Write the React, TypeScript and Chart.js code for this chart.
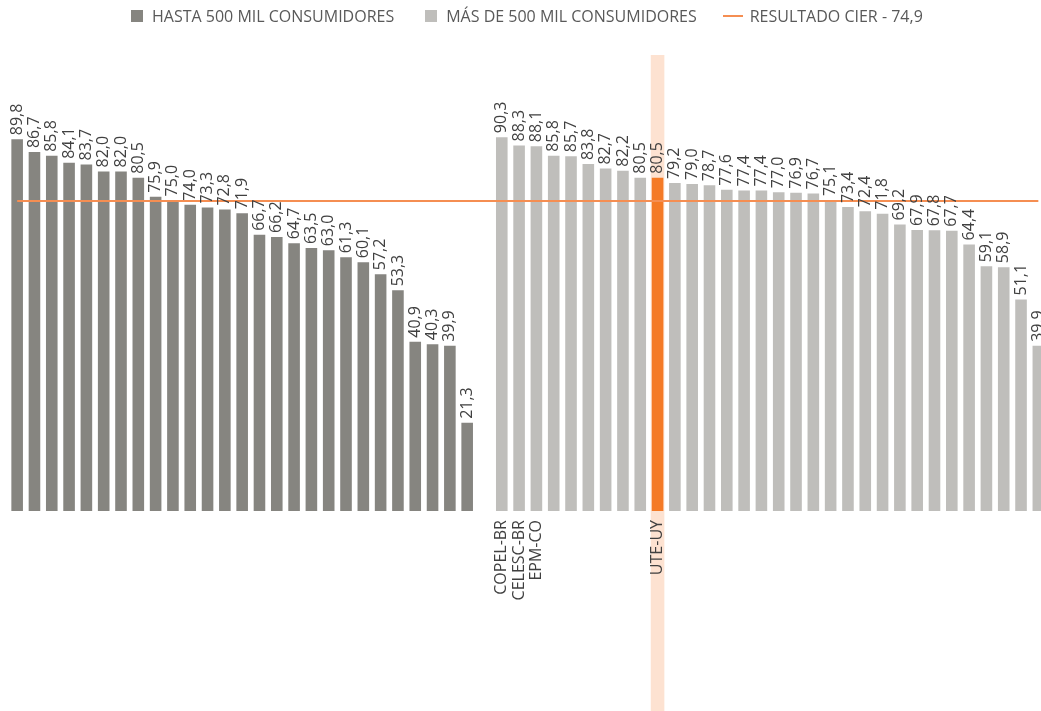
import React, { useEffect, useRef } from "react";
import { Chart, registerables } from "chart.js";

Chart.register(...registerables);

// ---- data ----
const hastaLabel = "HASTA 500 MIL CONSUMIDORES";
const masLabel = "MÁS DE 500 MIL CONSUMIDORES";
const cierLabel = "RESULTADO CIER - 74,9";

const hastaValues = [
  89.8, 86.7, 85.8, 84.1, 83.7, 82.0, 82.0, 80.5, 75.9, 75.0, 74.0, 73.3, 72.8, 71.9,
  66.7, 66.2, 64.7, 63.5, 63.0, 61.3, 60.1, 57.2, 53.3, 40.9, 40.3, 39.9, 21.3,
];
const masValues = [
  90.3, 88.3, 88.1, 85.8, 85.7, 83.8, 82.7, 82.2, 80.5, 80.5, 79.2, 79.0, 78.7, 77.6,
  77.4, 77.4, 77.0, 76.9, 76.7, 75.1, 73.4, 72.4, 71.8, 69.2, 67.9, 67.8, 67.7, 64.4,
  59.1, 58.9, 51.1, 39.9,
];
const masNames = [
  "COPEL-BR", "CELESC-BR", "EPM-CO", "", "", "", "", "", "", "UTE-UY",
  "", "", "", "", "", "", "", "", "", "", "", "", "", "", "", "", "", "", "", "", "", "",
];
const highlightName = "UTE-UY";
const resultadoCier = 74.9;

// ---- styles ----
const DARK = "#868580";
const LIGHT = "#bfbebb";
const ORANGE = "#f47a26";
const LINE = "#f58e52";
const BAND = "#fde2d1";
const TEXT = "#404040";
const FONT = "'Open Sans', 'DejaVu Sans', sans-serif";

const hastaNames = hastaValues.map(() => "");
const categories = [...hastaNames, "", ...masNames];
const offset = hastaValues.length + 1;
const highlightIndex = offset + masNames.indexOf(highlightName);

const fmt = (v: number) => v.toFixed(1).replace(".", ",");

const bandPlugin = {
  id: "band",
  beforeDraw(chart: any) {
    const el = chart.getDatasetMeta(1).data[highlightIndex];
    if (!el) return;
    const ctx = chart.ctx;
    const w = el.width;
    ctx.save();
    ctx.fillStyle = BAND;
    ctx.fillRect(el.x - w / 2 - 1, 55, w + 2, chart.height - 55);
    ctx.restore();
  },
};

const labelPlugin = {
  id: "barLabels",
  afterDatasetsDraw(chart: any) {
    const ctx = chart.ctx;
    ctx.save();
    ctx.fillStyle = TEXT;
    ctx.font = `16px ${FONT}`;
    ctx.textAlign = "left";
    ctx.textBaseline = "middle";
    [0, 1].forEach((di) => {
      const meta = chart.getDatasetMeta(di);
      const data = chart.data.datasets[di].data;
      meta.data.forEach((el: any, i: number) => {
        const v = data[i];
        if (v === null || v === undefined) return;
        ctx.save();
        ctx.translate(el.x, el.y - 4);
        ctx.rotate(-Math.PI / 2);
        ctx.fillText(fmt(v), 0, 0);
        ctx.restore();
      });
    });
    ctx.restore();
  },
};

export default function App() {
  const ref = useRef<HTMLCanvasElement>(null);

  useEffect(() => {
    if (!ref.current) return;
    const hastaData = [...hastaValues, null, ...masValues.map(() => null)];
    const masData = [...hastaValues.map(() => null), null, ...masValues];
    const masColors = categories.map((_, i) => (i === highlightIndex ? ORANGE : LIGHT));
    const lineData = categories.map(() => resultadoCier);

    const chart = new Chart(ref.current, {
      type: "bar",
      data: {
        labels: categories,
        datasets: [
          {
            label: hastaLabel,
            data: hastaData,
            backgroundColor: DARK,
            grouped: false,
            categoryPercentage: 1,
            barPercentage: 0.67,
            order: 1,
          } as any,
          {
            label: masLabel,
            data: masData,
            backgroundColor: masColors,
            grouped: false,
            categoryPercentage: 1,
            barPercentage: 0.67,
            order: 1,
          } as any,
          {
            type: "line",
            label: cierLabel,
            data: lineData,
            borderColor: LINE,
            borderWidth: 2,
            pointRadius: 0,
            fill: false,
            order: 0,
          } as any,
        ],
      },
      options: {
        responsive: false,
        animation: false,
        layout: { padding: { left: 8.5, right: 3, top: 97, bottom: 0 } },
        plugins: {
          legend: { display: false },
          tooltip: { enabled: false },
        },
        scales: {
          x: {
            grid: { display: false, drawTicks: false },
            border: { display: false },
            ticks: {
              autoSkip: false,
              minRotation: 90,
              maxRotation: 90,
              padding: 9,
              color: TEXT,
              font: { family: FONT, size: 16 },
            },
            afterFit: (scale: any) => {
              scale.height = 200;
              scale.paddingLeft = 0;
              scale.paddingRight = 0;
            },
          },
          y: { display: false, min: 0, max: 100 },
        },
      },
      plugins: [bandPlugin, labelPlugin],
    });
    return () => chart.destroy();
  }, []);

  const legendText: React.CSSProperties = {
    fontFamily: FONT,
    fontSize: 16,
    color: "#595959",
    whiteSpace: "nowrap",
  };
  const box = (c: string): React.CSSProperties => ({
    width: 12,
    height: 12,
    background: c,
    marginRight: 9,
  });

  return (
    <div
      style={{
        position: "fixed",
        left: 0,
        top: 0,
        width: 1041,
        height: 711,
        overflow: "hidden",
        background: "#fff",
      }}
    >
      <canvas
        ref={ref}
        width={1050}
        height={711}
        style={{ position: "absolute", left: 0, top: 0, display: "block" }}
      />
      <div
        style={{
          position: "absolute",
          left: 131,
          top: 4,
          display: "flex",
          alignItems: "center",
          height: 24,
        }}
      >
        <div style={box(DARK)} />
        <span style={legendText}>{hastaLabel}</span>
        <div style={{ ...box(LIGHT), marginLeft: 31 }} />
        <span style={legendText}>{masLabel}</span>
        <div style={{ width: 20, height: 2, background: LINE, marginLeft: 26, marginRight: 7 }} />
        <span style={legendText}>{cierLabel}</span>
      </div>
    </div>
  );
}
